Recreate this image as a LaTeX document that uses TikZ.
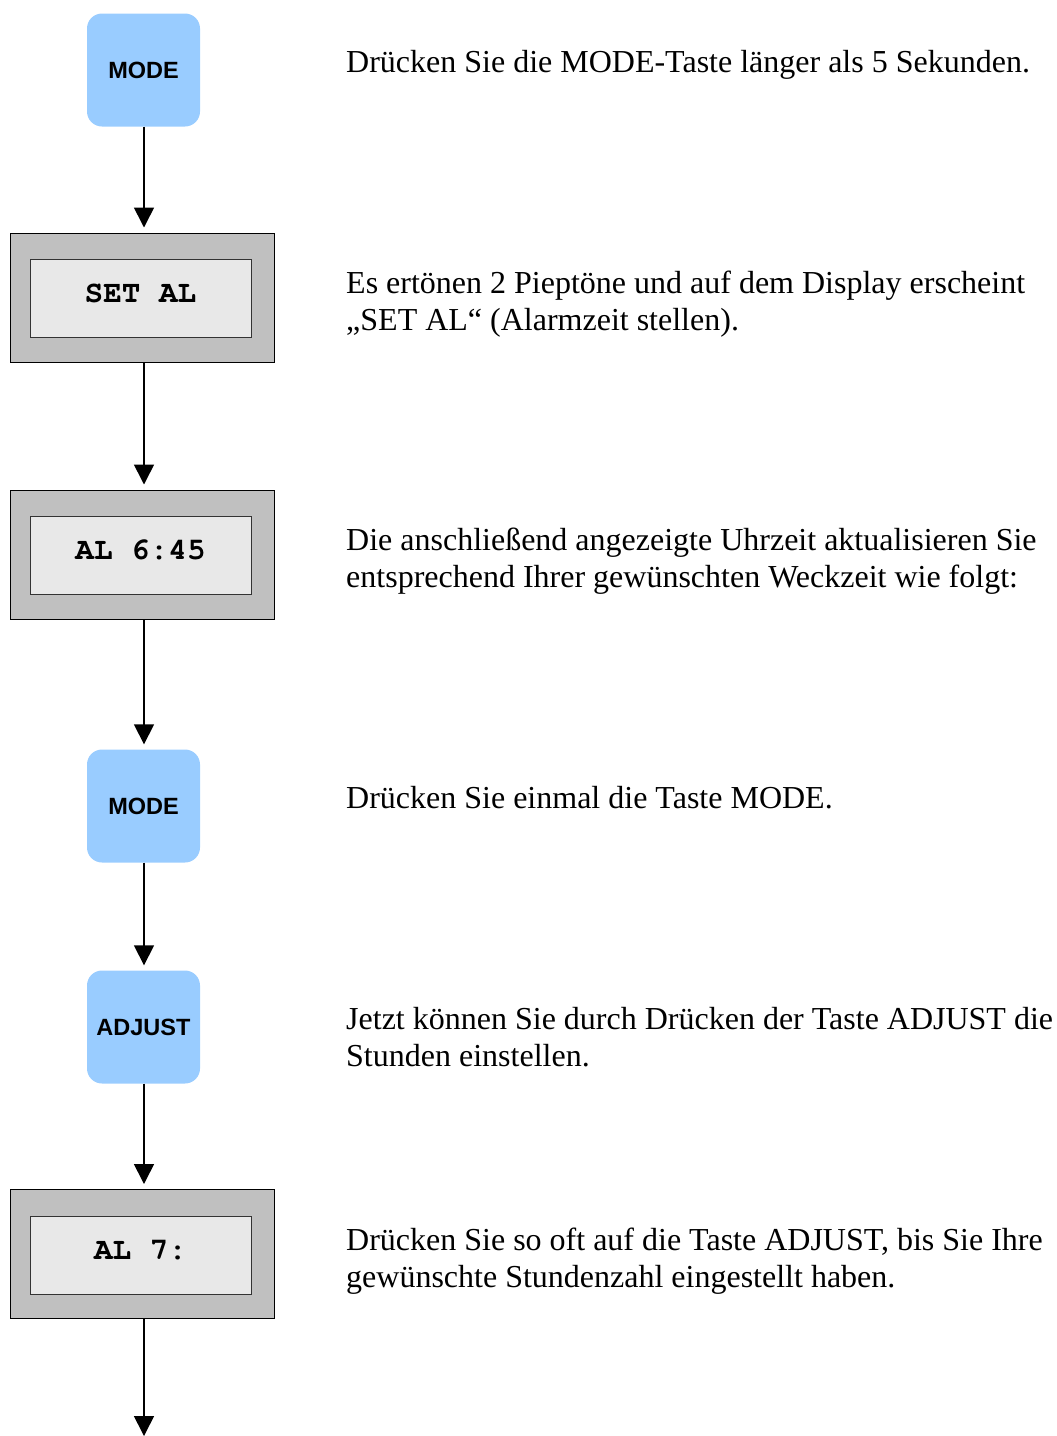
\documentclass[tikz,border=0pt]{standalone}
\usepackage{fontspec}
\setmainfont{Liberation Serif}
\newfontfamily\btnfont{Liberation Sans}
\newfontfamily\lcdfont{TeX Gyre Cursor}
\usetikzlibrary{arrows.meta}
\definecolor{btnblue}{HTML}{99CCFF}
\definecolor{frame}{HTML}{C0C0C0}
\definecolor{screen}{HTML}{E8E8E8}
\begin{document}
\begin{tikzpicture}[x=1pt,y=-1pt,
  button/.style={rectangle, rounded corners=15pt, fill=btnblue, draw=none,
    minimum width=113pt, minimum height=113pt, inner sep=0pt,
    font=\btnfont\bfseries\fontsize{23.5}{28}\selectfont},
  lcdframe/.style={rectangle, fill=frame, draw=black, line width=1pt,
    minimum width=264pt, minimum height=129pt, inner sep=0pt},
  lcdscreen/.style={rectangle, fill=screen, draw=black!80, line width=1pt,
    minimum width=221pt, minimum height=78pt, inner sep=0pt,
    text height=18pt, text depth=10pt,
    font=\lcdfont\bfseries\fontsize{31}{36}\selectfont},
  desc/.style={anchor=base west, align=left, inner sep=0pt,
    font=\fontsize{32}{37}\selectfont},
  flow/.style={line width=1.6pt, shorten >=5pt,
    -{Triangle[length=20pt,width=20pt]}}]
  \useasboundingbox (0,0) rectangle (1057,1436);

  % left column: buttons and display states
  \node[button] (mode1) at (143.5,70) {MODE};
  \node[lcdframe] (f1) at (142,297.5) {};
  \node[lcdscreen] (s1) at (140.5,298) {SET AL};
  \node[lcdframe] (f2) at (142,554.5) {};
  \node[lcdscreen] (s2) at (140.5,555.5) {AL 6:45};
  \node[button] (mode2) at (143.5,806) {MODE};
  \node[button] (adjust) at (143.5,1027) {ADJUST};
  \node[lcdframe] (f3) at (142,1254) {};
  \node[lcdscreen] (s3) at (140.5,1255) {AL 7:};
  \coordinate (end) at (144,1441);

  % connectors
  \draw[flow] (mode1.south -| 144,0) -- (f1.north -| 144,0);
  \draw[flow] (f1.south -| 144,0) -- (f2.north -| 144,0);
  \draw[flow] (f2.south -| 144,0) -- (mode2.north -| 144,0);
  \draw[flow] (mode2.south -| 144,0) -- (adjust.north -| 144,0);
  \draw[flow] (adjust.south -| 144,0) -- (f3.north -| 144,0);
  \draw[flow] (f3.south -| 144,0) -- (end);

  % descriptions (base anchor sits on the last line)
  \node[desc] (t1) at (346,72) {Drücken Sie die MODE-Taste länger als 5 Sekunden.};
  \node[desc] (t2) at (346,330) {Es ertönen 2 Pieptöne und auf dem Display erscheint\\„SET AL“ (Alarmzeit stellen).};
  \node[desc] (t3) at (346,587) {Die anschließend angezeigte Uhrzeit aktualisieren Sie\\entsprechend Ihrer gewünschten Weckzeit wie folgt:};
  \node[desc] (t4) at (346,808) {Drücken Sie einmal die Taste MODE.};
  \node[desc] (t5) at (346,1066) {Jetzt können Sie durch Drücken der Taste ADJUST die\\Stunden einstellen.};
  \node[desc] (t6) at (346,1287) {Drücken Sie so oft auf die Taste ADJUST, bis Sie Ihre\\gewünschte Stundenzahl eingestellt haben.};
\end{tikzpicture}
\end{document}
